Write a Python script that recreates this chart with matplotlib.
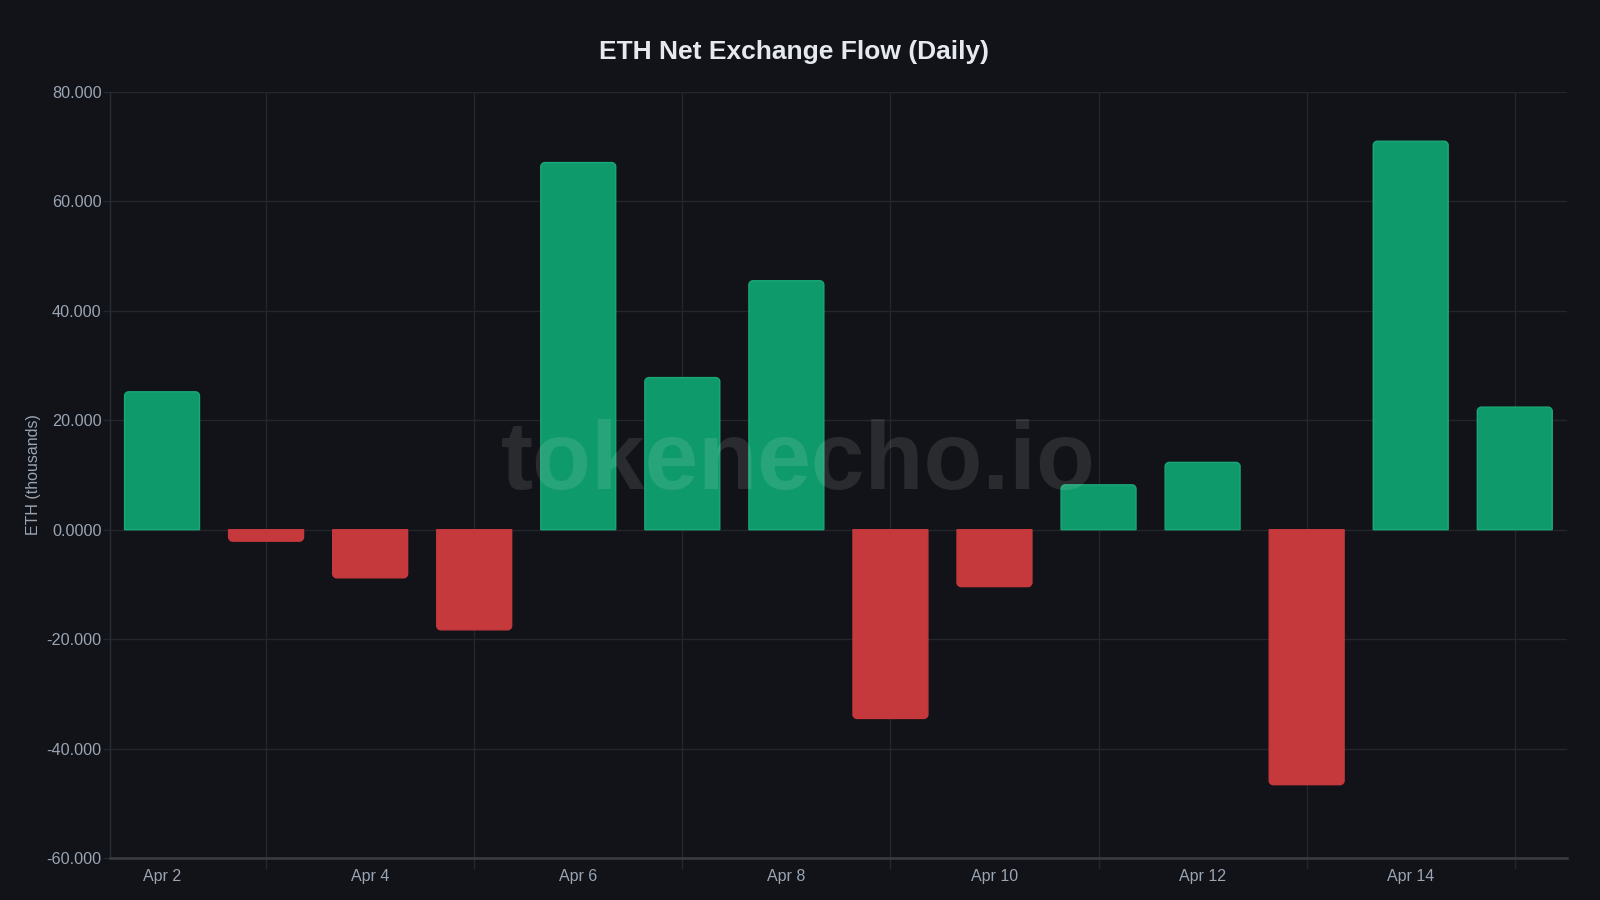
import matplotlib
matplotlib.use("Agg")
import matplotlib.pyplot as plt
from matplotlib.path import Path
from matplotlib.patches import PathPatch

dates = ["Apr 2", "Apr 3", "Apr 4", "Apr 5", "Apr 6", "Apr 7", "Apr 8",
         "Apr 9", "Apr 10", "Apr 11", "Apr 12", "Apr 13", "Apr 14", "Apr 15"]
net_flow = [25.2, -2.1, -8.8, -18.3, 67.1, 27.8, 45.5,
            -34.5, -10.4, 8.2, 12.3, -46.6, 71.0, 22.4]
y_ticks = [-60, -40, -20, 0, 20, 40, 60, 80]
y_tick_labels = ["-60.000", "-40.000", "-20.000", "0.0000", "20.000", "40.000", "60.000", "80.000"]

BG = "#111318"
GREEN = "#0f9a6b"
GREEN_EDGE = "#1aa877"
RED = "#c5393d"
GRID = "#23262c"
TEXT = "#9aa4b3"

plt.rcParams['font.family'] = ['Liberation Sans', 'DejaVu Sans']

fig = plt.figure(figsize=(16, 9), dpi=100, facecolor=BG)
ax = fig.add_axes([0.06875, 0.0467, 0.9105, 0.8511])
ax.set_facecolor(BG)

x = list(range(len(dates)))
width = 0.72
ax.set_xlim(-0.5, len(dates) - 0.5)
ax.set_ylim(-60, 80)

# rounded-end bars
rx, ry = 0.04, 0.75
K = 0.5523
for xi, v in zip(x, net_flow):
    l, r = xi - width / 2, xi + width / 2
    s = 1 if v >= 0 else -1
    t = v
    ryy = min(ry, abs(v) / 2) * s
    verts = [(l, 0), (l, t - ryy),
             (l, t - ryy + K * ryy), (l + rx - K * rx, t), (l + rx, t),
             (r - rx, t),
             (r - rx + K * rx, t), (r, t - ryy + K * ryy), (r, t - ryy),
             (r, 0), (l, 0)]
    codes = [Path.MOVETO, Path.LINETO,
             Path.CURVE4, Path.CURVE4, Path.CURVE4,
             Path.LINETO,
             Path.CURVE4, Path.CURVE4, Path.CURVE4,
             Path.LINETO, Path.CLOSEPOLY]
    color = GREEN if v >= 0 else RED
    edge = GREEN_EDGE if v >= 0 else RED
    ax.add_patch(PathPatch(Path(verts, codes), facecolor=color, edgecolor=edge,
                           linewidth=1.0, zorder=3))

# ticks & grid
ax.set_yticks(y_ticks)
ax.set_yticklabels(y_tick_labels)
ax.set_xticks(x[::2])
ax.set_xticklabels(dates[::2])
ax.set_xticks(x[1::2], minor=True)
ax.tick_params(axis='x', which='major', length=0, pad=8, labelsize=11.5, labelcolor=TEXT)
ax.tick_params(axis='x', which='minor', length=8, color=GRID, width=1)
ax.tick_params(axis='y', length=5, color=GRID, width=1, pad=1, labelsize=11.7, labelcolor=TEXT)
ax.grid(axis='y', which='major', color=GRID, linewidth=1, zorder=0)
ax.grid(axis='x', which='minor', color=GRID, linewidth=1, zorder=0)
ax.grid(axis='x', which='major', visible=False)
ax.set_axisbelow(True)

for side in ['top', 'right']:
    ax.spines[side].set_visible(False)
ax.spines['left'].set_color("#2a2d33")
ax.spines['left'].set_linewidth(1)
ax.spines['bottom'].set_color("#3a3d44")
ax.spines['bottom'].set_linewidth(1.8)

ax.set_ylabel("ETH (thousands)", color=TEXT, fontsize=11.5, labelpad=4)

fig.text(0.496, 0.942, "ETH Net Exchange Flow (Daily)", ha='center', va='center',
         color="#e6e9ee", fontsize=19, fontweight='bold')

fig.text(0.499, 0.484, "tokenecho.io", ha='center', va='center',
         color="white", alpha=0.1, fontsize=69.5, fontweight='bold', zorder=10)

fig.savefig("out.png", dpi=100, facecolor=BG)
